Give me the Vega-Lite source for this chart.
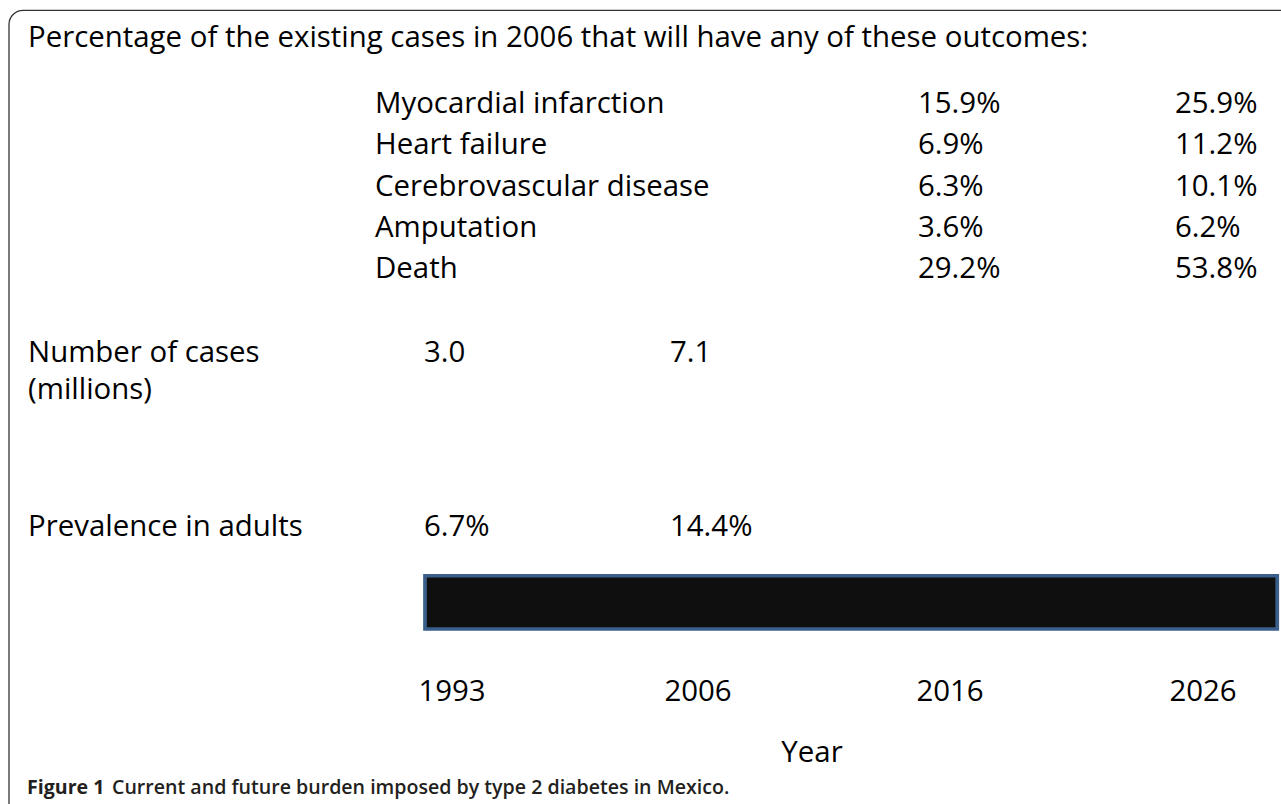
{
  "$schema": "https://vega.github.io/schema/vega-lite/v6.json",
  "width": 1281,
  "height": 804,
  "autosize": {"type": "none"},
  "padding": 0,
  "background": "white",
  "config": {"view": {"stroke": null}},
  "datasets": {
    "texts": [
      {"kind": "left", "text": "Percentage of the existing cases in 2006 that will have any of these outcomes:", "col": -0.688, "row": 0.92},
      {"kind": "left", "text": "Myocardial infarction", "col": 0.7, "row": 2.52},
      {"kind": "left", "text": "Heart failure", "col": 0.7, "row": 3.52},
      {"kind": "left", "text": "Cerebrovascular disease", "col": 0.7, "row": 4.53},
      {"kind": "left", "text": "Amputation", "col": 0.7, "row": 5.53},
      {"kind": "left", "text": "Death", "col": 0.7, "row": 6.52},
      {"kind": "left", "text": "15.9%", "col": 2.872, "row": 2.52},
      {"kind": "left", "text": "6.9%", "col": 2.872, "row": 3.52},
      {"kind": "left", "text": "6.3%", "col": 2.872, "row": 4.53},
      {"kind": "left", "text": "3.6%", "col": 2.872, "row": 5.53},
      {"kind": "left", "text": "29.2%", "col": 2.872, "row": 6.52},
      {"kind": "left", "text": "25.9%", "col": 3.9, "row": 2.52},
      {"kind": "left", "text": "11.2%", "col": 3.9, "row": 3.52},
      {"kind": "left", "text": "10.1%", "col": 3.9, "row": 4.53},
      {"kind": "left", "text": "6.2%", "col": 3.9, "row": 5.53},
      {"kind": "left", "text": "53.8%", "col": 3.9, "row": 6.52},
      {"kind": "left", "text": "Number of cases", "col": -0.688, "row": 8.55},
      {"kind": "left", "text": "(millions)", "col": -0.688, "row": 9.45},
      {"kind": "left", "text": "3.0", "col": 0.896, "row": 8.55},
      {"kind": "left", "text": "7.1", "col": 1.88, "row": 8.55},
      {"kind": "left", "text": "Prevalence in adults", "col": -0.688, "row": 12.77},
      {"kind": "left", "text": "6.7%", "col": 0.896, "row": 12.77},
      {"kind": "left", "text": "14.4%", "col": 1.88, "row": 12.77},
      {"kind": "center", "text": "1993", "col": 1.008, "row": 16.76},
      {"kind": "center", "text": "2006", "col": 1.992, "row": 16.76},
      {"kind": "center", "text": "2016", "col": 3.0, "row": 16.76},
      {"kind": "center", "text": "2026", "col": 4.012, "row": 16.76},
      {"kind": "center", "text": "Year", "col": 2.448, "row": 18.24}
    ]
  },
  "encoding": {},
  "layer": [
    {
      "data": {"values": [{"x": -0.764, "x2": 4.7, "y": 0.25, "y2": 20.5}]},
      "mark": {"type": "rect", "fill": null, "fillOpacity": 0, "stroke": "#333333", "strokeWidth": 1.3, "cornerRadius": 14, "clip": true},
      "encoding": {
        "x": {"field": "x", "type": "quantitative", "scale": {"domain": [-0.8, 4.324], "nice": false, "zero": false}, "axis": null},
        "x2": {"field": "x2"},
        "y": {"field": "y", "type": "quantitative", "scale": {"domain": [0, 19.467], "reverse": true, "nice": false, "zero": false}, "axis": null},
        "y2": {"field": "y2"}
      }
    },
    {
      "data": {"values": [{"x": 0.9, "x2": 4.309, "y": 13.94, "y2": 15.23}]},
      "mark": {"type": "rect", "fill": "#0f0f0f", "stroke": "#3a5f8c", "strokeWidth": 3.7},
      "encoding": {
        "x": {"field": "x", "type": "quantitative", "scale": {"domain": [-0.8, 4.324], "nice": false, "zero": false}, "axis": null},
        "x2": {"field": "x2"},
        "y": {"field": "y", "type": "quantitative", "scale": {"domain": [0, 19.467], "reverse": true, "nice": false, "zero": false}, "axis": null},
        "y2": {"field": "y2"}
      }
    },
    {
      "data": {"name": "texts"},
      "transform": [{"filter": "datum.kind === 'left'"}],
      "mark": {"type": "text", "align": "left", "baseline": "middle", "font": "Open Sans", "fontSize": 29.4, "color": "#000000"},
      "encoding": {
        "x": {"field": "col", "type": "quantitative", "scale": {"domain": [-0.8, 4.324], "nice": false, "zero": false}, "axis": null},
        "y": {"field": "row", "type": "quantitative", "scale": {"domain": [0, 19.467], "reverse": true, "nice": false, "zero": false}, "axis": null},
        "text": {"field": "text"}
      }
    },
    {
      "data": {"name": "texts"},
      "transform": [{"filter": "datum.kind === 'center'"}],
      "mark": {"type": "text", "align": "center", "baseline": "middle", "font": "Open Sans", "fontSize": 29.4, "color": "#000000"},
      "encoding": {
        "x": {"field": "col", "type": "quantitative", "scale": {"domain": [-0.8, 4.324], "nice": false, "zero": false}, "axis": null},
        "y": {"field": "row", "type": "quantitative", "scale": {"domain": [0, 19.467], "reverse": true, "nice": false, "zero": false}, "axis": null},
        "text": {"field": "text"}
      }
    },
    {
      "data": {"values": [{"text": "Figure 1", "col": -0.692, "row": 19.08}]},
      "mark": {"type": "text", "align": "left", "baseline": "middle", "font": "Open Sans", "fontSize": 19.6, "fontWeight": "bold", "color": "#231f20"},
      "encoding": {
        "x": {"field": "col", "type": "quantitative", "scale": {"domain": [-0.8, 4.324], "nice": false, "zero": false}, "axis": null},
        "y": {"field": "row", "type": "quantitative", "scale": {"domain": [0, 19.467], "reverse": true, "nice": false, "zero": false}, "axis": null},
        "text": {"field": "text"}
      }
    },
    {
      "data": {"values": [{"text": "Current and future burden imposed by type 2 diabetes in Mexico.", "col": -0.352, "row": 19.08}]},
      "mark": {"type": "text", "align": "left", "baseline": "middle", "font": "Open Sans", "fontSize": 19.6, "fontWeight": 600, "color": "#231f20"},
      "encoding": {
        "x": {"field": "col", "type": "quantitative", "scale": {"domain": [-0.8, 4.324], "nice": false, "zero": false}, "axis": null},
        "y": {"field": "row", "type": "quantitative", "scale": {"domain": [0, 19.467], "reverse": true, "nice": false, "zero": false}, "axis": null},
        "text": {"field": "text"}
      }
    }
  ]
}
